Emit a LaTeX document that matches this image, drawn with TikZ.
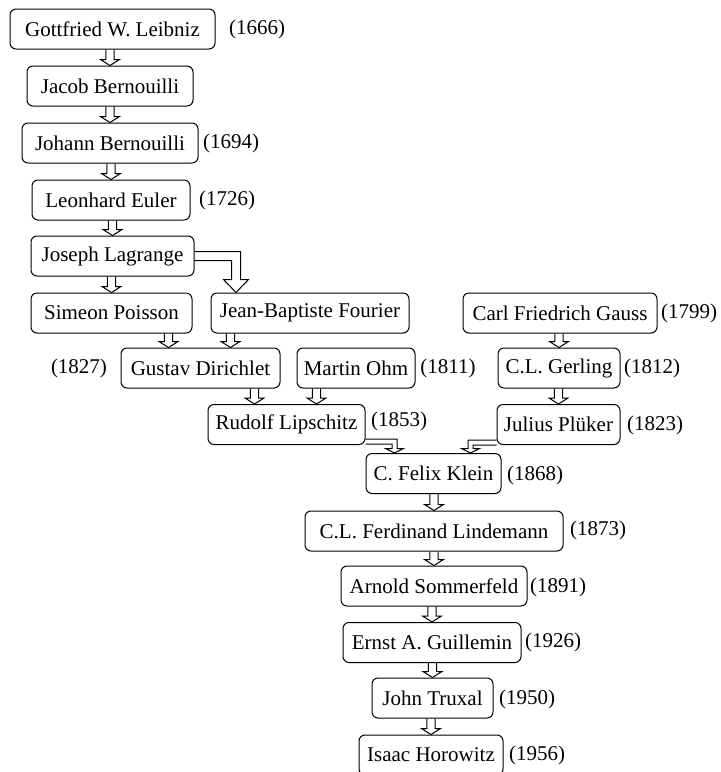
\documentclass[tikz,border=0pt]{standalone}
\usepackage{fontspec}
\setmainfont{Liberation Serif}
\usetikzlibrary{calc}
\begin{document}
\begin{tikzpicture}[x=0.5pt,y=-0.5pt,line width=0.5pt,
  every node/.style={font=\fontsize{10.5}{12}\selectfont},
  person/.style={draw,rounded corners=3pt,inner sep=0pt,minimum height=20pt,minimum width=#1},
  pipe/.style={to path={let \p1=(\tikztostart), \p2=(\tikztotarget) in
   (\x2-2.1pt,\y1) -- (\x2-2.1pt,\y2+3pt) -- (\x2-4.75pt,\y2+3pt) -- (\x2,\y2)
   -- (\x2+4.75pt,\y2+3pt) -- (\x2+2.1pt,\y2+3pt) -- (\x2+2.1pt,\y1)}},
  elbow/.style n args={4}{to path={let \p1=(\tikztostart), \p2=(\tikztotarget) in
   (\x1,\y1+#2) -- ({\x2+(#1)*(#2)},\y1+#2) -- ({\x2+(#1)*(#2)},\y2+#4)
   -- ({\x2+(#1)*(#3)},\y2+#4) -- (\x2,\y2) -- ({\x2-(#1)*(#3)},\y2+#4)
   -- ({\x2-(#1)*(#2)},\y2+#4) -- ({\x2-(#1)*(#2)},\y1-#2) -- (\x1,\y1-#2)}}]
 \useasboundingbox (0,0) rectangle (721,772);
 \node [person=102.5pt] (leibniz) at (112.5,29) {Gottfried W. Leibniz};
 \node [person=83pt] (jacob) at (110,86) {Jacob Bernouilli};
 \node [person=88pt] (johann) at (110,143) {Johann Bernouilli};
 \node [person=79pt] (euler) at (111,200) {Leonhard Euler};
 \node [person=81.5pt] (lagrange) at (112.5,256) {Joseph Lagrange};
 \node [person=80.5pt] (poisson) at (111.5,313) {Simeon Poisson};
 \node [person=99pt] (fourier) at (310,313) {Jean-Baptiste Fourier};
 \node [person=97pt] (gauss) at (560,313) {Carl Friedrich Gauss};
 \node [person=79.5pt] (dirichlet) at (200.5,368) {Gustav Dirichlet};
 \node [person=59pt] (ohm) at (356,368) {Martin Ohm};
 \node [person=61pt] (gerling) at (559,368) {C.L. Gerling};
 \node [person=78.5pt] (lipschitz) at (286.5,424.5) {Rudolf Lipschitz};
 \node [person=61.5pt] (plueker) at (558.5,424.5) {Julius Plüker};
 \node [person=67.5pt] (klein) at (433.5,473.5) {C. Felix Klein};
 \node [person=129pt] (lindemann) at (434,531) {C.L. Ferdinand Lindemann};
 \node [person=93pt] (sommerfeld) at (434,586) {Arnold Sommerfeld};
 \node [person=89pt] (guillemin) at (432,642.5) {Ernst A. Guillemin};
 \node [person=60.5pt] (truxal) at (432.5,698) {John Truxal};
 \node [person=72pt] (horowitz) at (431,755) {Isaac Horowitz};
 \node (y1666) at (257,29) {(1666)};
 \node (y1694) at (231,143) {(1694)};
 \node (y1726) at (227,200) {(1726)};
 \node (y1799) at (689,313) {(1799)};
 \node (y1827) at (79,368) {(1827)};
 \node (y1811) at (448,368) {(1811)};
 \node (y1812) at (652,368) {(1812)};
 \node (y1853) at (399,421) {(1853)};
 \node (y1823) at (655,425) {(1823)};
 \node (y1868) at (535,475) {(1868)};
 \node (y1873) at (598,530) {(1873)};
 \node (y1891) at (558,587) {(1891)};
 \node (y1926) at (553,642) {(1926)};
 \node (y1950) at (527,699) {(1950)};
 \node (y1956) at (537,755) {(1956)};
 \foreach \a/\b in {leibniz/jacob,jacob/johann,johann/euler,euler/lagrange,lagrange/poisson,
  gauss/gerling,gerling/plueker,klein/lindemann,lindemann/sommerfeld,sommerfeld/guillemin,
  guillemin/truxal,truxal/horowitz}
  \draw [pipe] (\a.south) to (\b.north);
 \draw [pipe] (poisson.south) to ([xshift=-16pt]dirichlet.north);
 \draw [pipe] (fourier.south) to ([xshift=15pt]dirichlet.north);
 \draw [pipe] (dirichlet.south) to ([xshift=-16pt]lipschitz.north);
 \draw [pipe] (ohm.south) to ([xshift=15pt]lipschitz.north);
 \draw [elbow={1}{2.25pt}{6.25pt}{6.5pt}] (lagrange.east) to ([xshift=-37pt]fourier.north);
 \draw [elbow={1}{1.25pt}{4.5pt}{2.25pt}] ([yshift=1.75pt]lipschitz.south east) to ([xshift=-19.5pt]klein.north);
 \draw [elbow={-1}{1.25pt}{4.5pt}{2.25pt}] ([yshift=1.25pt]plueker.south west) to ([xshift=18.5pt]klein.north);
\end{tikzpicture}
\end{document}
